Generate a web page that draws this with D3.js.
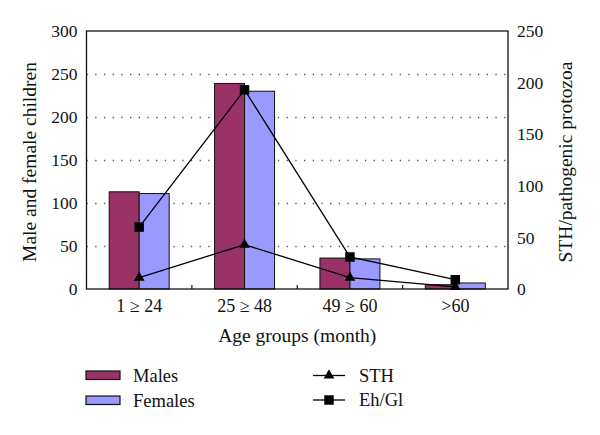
<!DOCTYPE html>
<html><head><meta charset="utf-8">
<script src="https://cdn.jsdelivr.net/npm/d3@7"></script>
<style>body{margin:0;background:#fff}svg{display:block}text{font-family:"Liberation Serif","Times New Roman",serif;fill:#111}</style>
</head><body><svg id="c" width="600" height="435"></svg>
<script>
const categories = ["1 \u2265 24", "25 \u2265 48", "49 \u2265 60", ">60"];
const males = [113, 239, 36, 5];
const females = [111, 230, 35, 7];
const sth = [11, 43, 11, 2];
const ehgl = [60, 193, 31, 9];
const leftTicks = [0, 50, 100, 150, 200, 250, 300];
const rightTicks = [0, 50, 100, 150, 200, 250];

const svg = d3.select("#c");
const L = 86.5, R = 508, T = 31, B = 289;
const x = d3.scaleBand().domain(categories).range([L, R]);
const yL = d3.scaleLinear().domain([0, 300]).range([B, T]);
const yR = d3.scaleLinear().domain([0, 250]).range([B, T]);
const fs = 17.5;

// grid
svg.append("g").selectAll("line").data(leftTicks.filter(d => d > 0 && d < 300)).join("line")
  .attr("x1", L).attr("x2", R).attr("y1", d => Math.round(yL(d)) + 0.5).attr("y2", d => Math.round(yL(d)) + 0.5)
  .attr("stroke", "#555").attr("stroke-width", 1.3).attr("stroke-dasharray", "1.3,7.4");

// bars
const bw = 30;
const g = svg.append("g");
g.selectAll(".m").data(categories).join("rect")
  .attr("x", d => x(d) + x.bandwidth()/2 - bw).attr("y", (d,i) => yL(males[i]))
  .attr("width", bw).attr("height", (d,i) => B - yL(males[i]))
  .attr("fill", "#993366").attr("stroke", "#111").attr("stroke-width", 1);
g.selectAll(".f").data(categories).join("rect")
  .attr("x", d => x(d) + x.bandwidth()/2).attr("y", (d,i) => yL(females[i]))
  .attr("width", bw).attr("height", (d,i) => B - yL(females[i]))
  .attr("fill", "#9999ff").attr("stroke", "#111").attr("stroke-width", 1);

// frame
svg.append("rect").attr("x", L).attr("y", T).attr("width", R - L).attr("height", B - T)
  .attr("fill", "none").attr("stroke", "#111").attr("stroke-width", 1.3);

// axes
const axL = svg.append("g").attr("transform", `translate(${L},0)`)
  .call(d3.axisLeft(yL).tickValues(leftTicks).tickSize(0).tickPadding(9));
const axR = svg.append("g").attr("transform", `translate(${R},0)`)
  .call(d3.axisRight(yR).tickValues(rightTicks).tickSize(0).tickPadding(9));
[axL, axR].forEach(a => { a.select(".domain").remove(); a.selectAll("text").attr("font-size", fs).attr("font-family", null); });

// bottom category ticks (inside, at band boundaries)
svg.append("g").selectAll("line").data(categories.slice(1)).join("line")
  .attr("x1", d => x(d)).attr("x2", d => x(d)).attr("y1", B).attr("y2", B - 4)
  .attr("stroke", "#111").attr("stroke-width", 1.2);
const axB = svg.append("g").attr("transform", `translate(0,${B})`)
  .call(d3.axisBottom(x).tickSize(0).tickPadding(10));
axB.select(".domain").remove();
axB.selectAll("text").attr("font-size", 18).attr("font-family", null);

// lines
const cx = d => x(d) + x.bandwidth()/2;
const line = arr => d3.line().x(d => cx(d)).y((d,i) => yR(arr[i]));
svg.append("path").datum(categories).attr("d", line(sth)).attr("fill", "none").attr("stroke", "#000").attr("stroke-width", 1.3);
svg.append("path").datum(categories).attr("d", line(ehgl)).attr("fill", "none").attr("stroke", "#000").attr("stroke-width", 1.3);
const tri = d3.symbol().type(d3.symbolTriangle).size(50);
const sq = d3.symbol().type(d3.symbolSquare).size(90);
svg.append("g").selectAll("path").data(categories).join("path")
  .attr("d", tri).attr("transform", (d,i) => `translate(${cx(d)},${yR(sth[i])})`).attr("fill", "#000");
svg.append("g").selectAll("path").data(categories).join("path")
  .attr("d", sq).attr("transform", (d,i) => `translate(${cx(d)},${yR(ehgl[i])})`).attr("fill", "#000");

// titles
svg.append("text").attr("transform", `translate(36,${(T+B)/2 + 2}) rotate(-90)`).attr("text-anchor", "middle")
  .attr("font-size", 19.5).text("Male and female children");
svg.append("text").attr("transform", `translate(572,${(T+B)/2 + 2}) rotate(-90)`).attr("text-anchor", "middle")
  .attr("font-size", 19.5).text("STH/pathogenic protozoa");
svg.append("text").attr("x", (L+R)/2).attr("y", 342).attr("text-anchor", "middle")
  .attr("font-size", 19.5).text("Age groups (month)");

// legend
const leg = svg.append("g");
const barLeg = [["Males", "#993366", 371], ["Females", "#9999ff", 396]];
barLeg.forEach(([t, c, y]) => {
  leg.append("rect").attr("x", 86).attr("y", y).attr("width", 34).attr("height", 8.5).attr("fill", c).attr("stroke", "#111").attr("stroke-width", 1.2);
  leg.append("text").attr("x", 133).attr("y", y + 4.5).attr("dy", "0.35em").attr("font-size", 18.5).text(t);
});
const lineLeg = [["STH", tri, 375.5], ["Eh/Gl", sq, 400]];
lineLeg.forEach(([t, s, y]) => {
  leg.append("line").attr("x1", 313).attr("x2", 345).attr("y1", y).attr("y2", y).attr("stroke", "#000").attr("stroke-width", 1.3);
  leg.append("path").attr("d", s).attr("transform", `translate(329,${y})`).attr("fill", "#000");
  leg.append("text").attr("x", 359).attr("y", y).attr("dy", "0.35em").attr("font-size", 18.5).text(t);
});
</script></body></html>
